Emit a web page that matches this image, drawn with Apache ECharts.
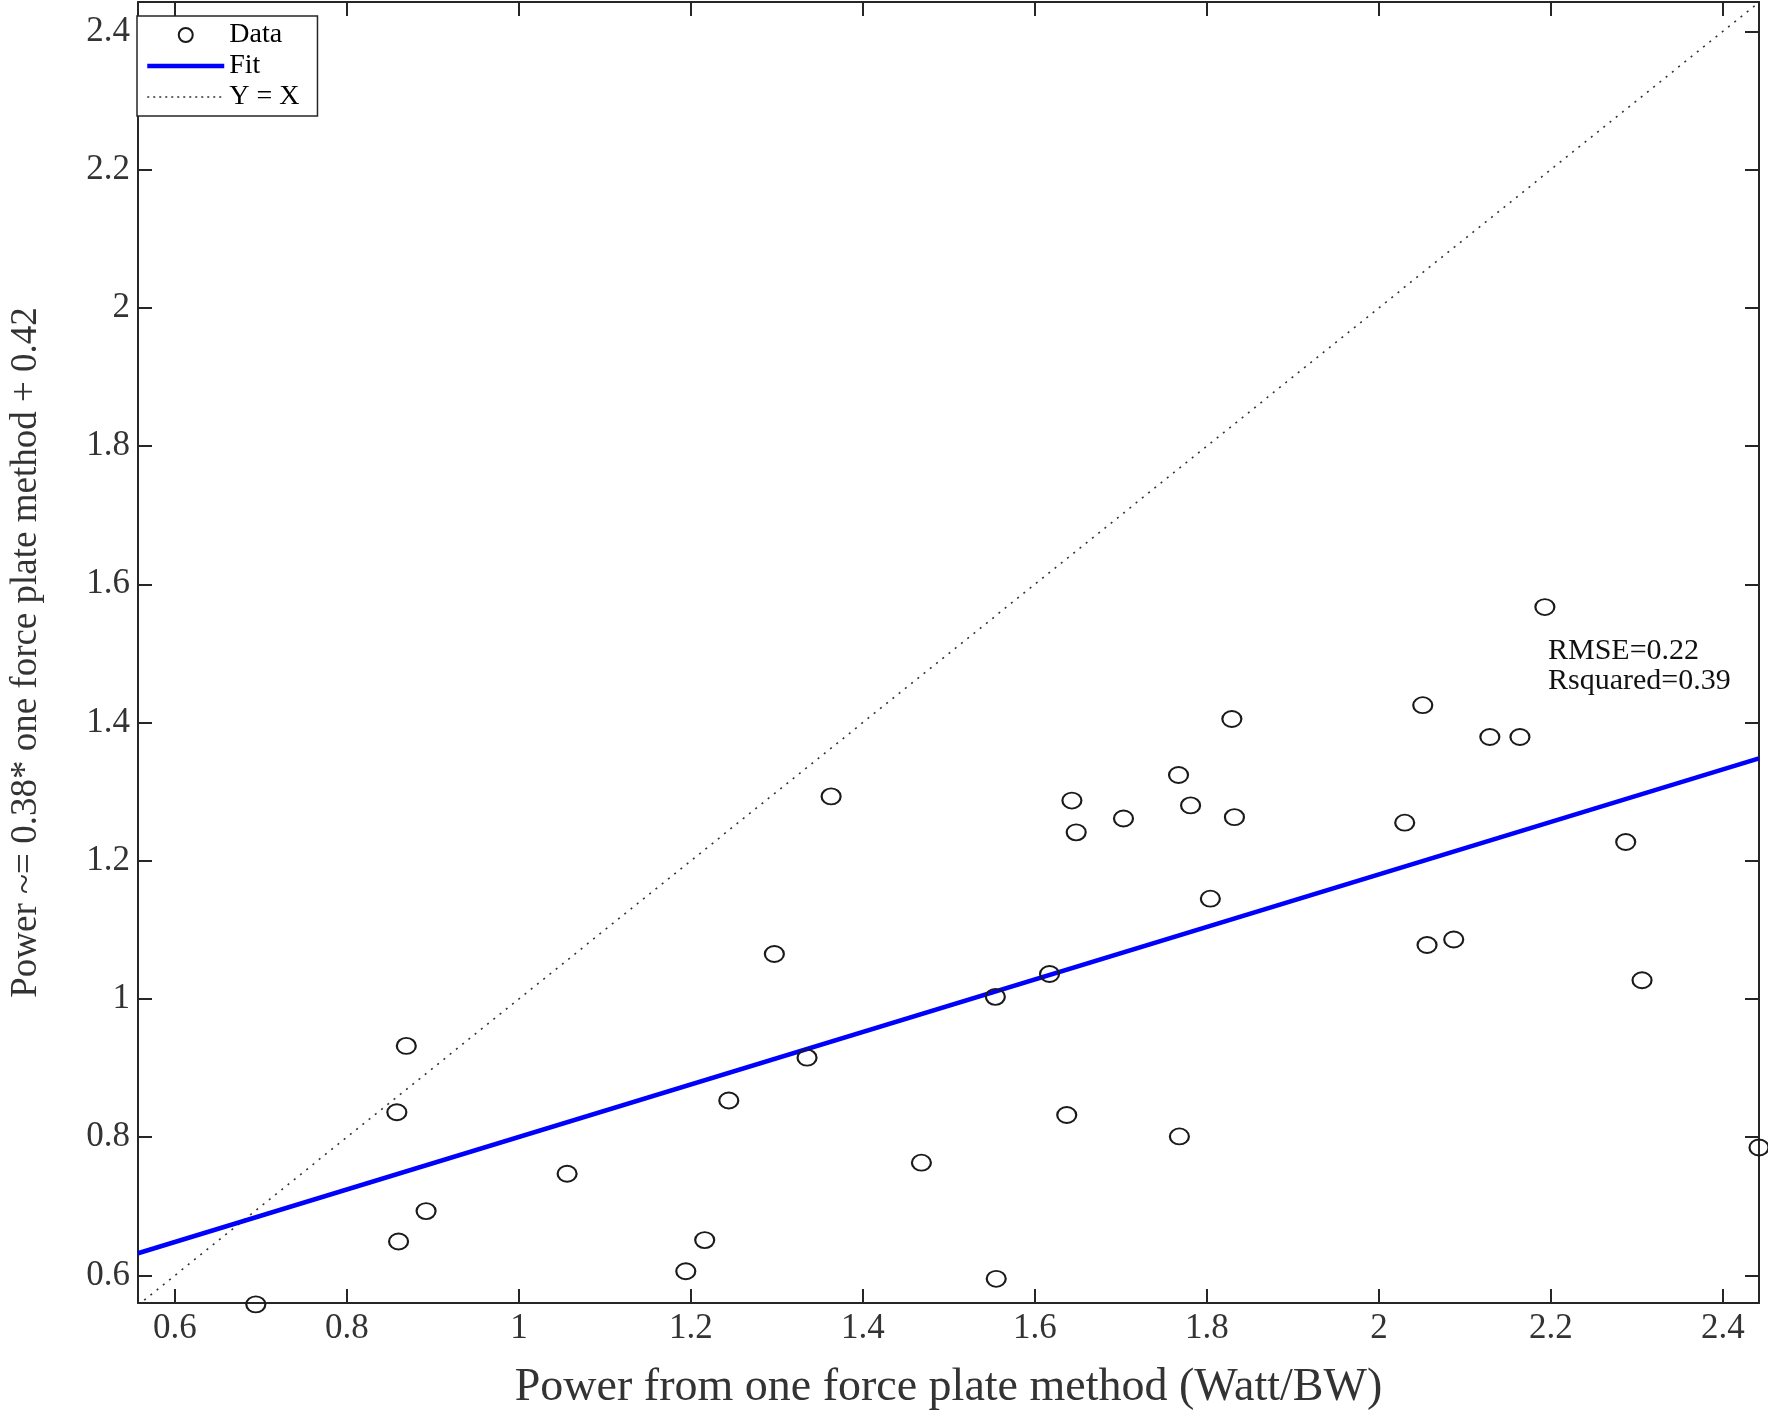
<!DOCTYPE html>
<html>
<head>
<meta charset="utf-8">
<title>Power fit</title>
<script src="https://cdn.jsdelivr.net/npm/echarts@6/dist/echarts.min.js"></script>
<style>
  html, body { margin: 0; padding: 0; background: #ffffff; }
  #chart { width: 1768px; height: 1416px; }
</style>
</head>
<body>
<div id="chart"></div>
<script>
// measured data (Watt/BW)
let dataX = [0.694, 0.860, 0.858, 0.869, 0.892, 1.056, 1.194, 1.216, 1.244, 1.297,
  1.335, 1.363, 1.468, 1.554, 1.555, 1.617, 1.637, 1.643, 1.648, 1.703,
  1.767, 1.768, 1.781, 1.804, 1.829, 1.832, 2.030, 2.051, 2.056, 2.087,
  2.129, 2.164, 2.193, 2.287, 2.306, 2.442];
let dataY = [0.558, 0.649, 0.836, 0.932, 0.693, 0.747, 0.606, 0.651, 0.853, 1.065,
  0.915, 1.293, 0.763, 1.003, 0.595, 1.036, 0.832, 1.287, 1.241, 1.261,
  1.324, 0.801, 1.280, 1.145, 1.405, 1.263, 1.255, 1.425, 1.078, 1.086,
  1.379, 1.379, 1.567, 1.227, 1.027, 0.785];

// fit line ends and the Y = X line
let fitX = [0.557, 2.442];
let fitY = [0.632, 1.348];
let idX = [0.557, 2.442];
let idY = [0.557, 2.442];

let xRange = [0.557, 2.442];
let yRange = [0.56, 2.4425];

let statsText = ['RMSE=0.22', 'Rsquared=0.39'];

let axisColor = '#262626';
let serif = 'Liberation Serif';

let myChart = echarts.init(document.getElementById('chart'), null, { renderer: 'canvas' });

function pairs(xs, ys) {
  return xs.map((x, i) => [x, ys[i]]);
}

function mainAxis(range, extra) {
  return Object.assign({
    type: 'value',
    min: range[0],
    max: range[1],
    minInterval: 0.2,
    maxInterval: 0.2,
    z: 3,
    splitLine: { show: false },
    axisLine: { show: true, onZero: false, lineStyle: { color: axisColor, width: 2 } },
    axisTick: { show: true, inside: true, length: 14, lineStyle: { color: axisColor, width: 2 } },
    axisLabel: {
      show: true,
      showMinLabel: false,
      showMaxLabel: false,
      color: '#333333',
      fontFamily: serif,
      fontSize: 35
    }
  }, extra);
}

function mirrorAxis(range, pos) {
  let ax = mainAxis(range, { position: pos });
  ax.axisLabel = { show: false };
  return ax;
}

let option = {
  backgroundColor: '#ffffff',
  animation: false,
  grid: { left: 127, right: 9, top: 2, bottom: 104, containLabel: false },
  legend: {
    orient: 'vertical',
    left: 137,
    top: 16,
    padding: [5, 18, 5, 8],
    itemGap: 3,
    itemWidth: 77,
    itemHeight: 14,
    backgroundColor: '#ffffff',
    borderColor: axisColor,
    borderWidth: 1.5,
    textStyle: { fontFamily: serif, fontSize: 28, color: '#000000', lineHeight: 26 },
    data: [
      { name: 'Data', itemStyle: { color: 'transparent', borderColor: '#1a1a1a', borderWidth: 2 } },
      { name: 'Fit', itemStyle: { opacity: 0 }, lineStyle: { width: 4.5, color: '#0000ff' } },
      { name: 'Y = X', itemStyle: { opacity: 0 }, lineStyle: { width: 1.5, color: '#333333', type: [2, 4] } }
    ]
  },
  xAxis: [
    mainAxis(xRange, {
      position: 'bottom',
      name: 'Power from one force plate method (Watt/BW)',
      nameLocation: 'middle',
      nameGap: 62,
      nameTextStyle: { fontFamily: serif, fontSize: 46, color: '#333333' }
    }),
    mirrorAxis(xRange, 'top')
  ],
  yAxis: [
    mainAxis(yRange, {
      position: 'left',
      name: 'Power ~= 0.38* one force plate method + 0.42',
      nameLocation: 'middle',
      nameGap: 93,
      nameTextStyle: { fontFamily: serif, fontSize: 37, color: '#333333' }
    }),
    mirrorAxis(yRange, 'right')
  ],
  series: [
    {
      name: 'Y = X',
      type: 'line',
      data: pairs(idX, idY),
      showSymbol: false,
      symbol: 'none',
      lineStyle: { color: '#333333', width: 1.6, type: [2, 6] },
      itemStyle: { color: '#333333' }
    },
    {
      name: 'Fit',
      type: 'line',
      data: pairs(fitX, fitY),
      showSymbol: false,
      symbol: 'none',
      lineStyle: { color: '#0000ff', width: 4.5 },
      itemStyle: { color: '#0000ff' }
    },
    {
      name: 'Data',
      type: 'scatter',
      data: pairs(dataX, dataY),
      clip: false,
      symbol: 'circle',
      symbolSize: [19, 16],
      itemStyle: { color: 'transparent', borderColor: '#1a1a1a', borderWidth: 2, opacity: 1 },
      z: 5
    }
  ],
  graphic: [
    {
      type: 'text',
      left: 1548,
      top: 636,
      style: {
        text: statsText.join('\n'),
        font: '30px "Liberation Serif"',
        fill: '#111111',
        lineHeight: 30
      }
    }
  ]
};

myChart.setOption(option, true);
window.addEventListener('resize', myChart.resize);
</script>
</body>
</html>
